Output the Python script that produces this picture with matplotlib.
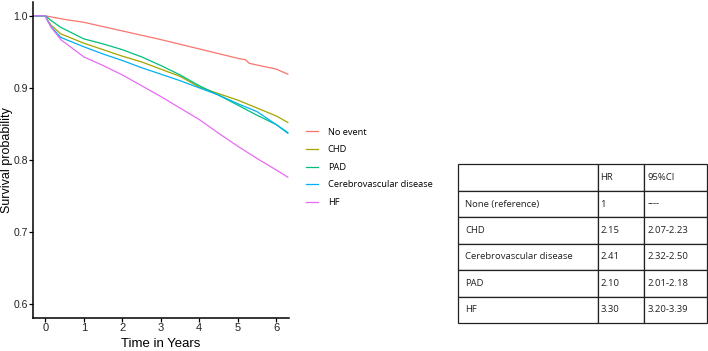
import matplotlib
matplotlib.use("Agg")
from matplotlib import pyplot as plt
from matplotlib.lines import Line2D

# survival curves
t_none = [-0.32, 0, 0.5, 1, 2, 3, 4, 5, 5.2, 5.3, 6, 6.3]
s_none = [1.0, 1.0, 0.995, 0.991, 0.979, 0.967, 0.954, 0.941, 0.939, 0.934, 0.926, 0.919]

t_grp = [-0.32, 0, 0.05, 0.15, 0.4, 1, 1.5, 2, 2.5, 3, 3.5, 4, 4.5, 5, 5.5, 6, 6.3]
s_chd = [1.0, 1.0, 0.995, 0.987, 0.975, 0.962, 0.953, 0.944, 0.936, 0.926, 0.916, 0.901, 0.892, 0.883, 0.872, 0.861, 0.852]
s_pad = [1.0, 1.0, 0.998, 0.9935, 0.984, 0.968, 0.961, 0.953, 0.943, 0.931, 0.918, 0.903, 0.890, 0.876, 0.862, 0.849, 0.838]
s_cvd = [1.0, 1.0, 0.994, 0.985, 0.970, 0.957, 0.947, 0.938, 0.928, 0.919, 0.910, 0.900, 0.890, 0.878, 0.867, 0.849, 0.837]
s_hf = [1.0, 1.0, 0.994, 0.984, 0.967, 0.943, 0.931, 0.918, 0.903, 0.888, 0.872, 0.856, 0.837, 0.819, 0.802, 0.786, 0.776]

labels = ["No event", "CHD", "PAD", "Cerebrovascular disease", "HF"]
colors = ["#F8766D", "#A3A500", "#00BF7D", "#00B0F6", "#E76BF3"]

# hazard ratio table
tab_header = ["", "HR", "95%CI"]
tab_groups = ["None (reference)", "CHD", "Cerebrovascular disease", "PAD", "HF"]
tab_hr = ["1", "2.15", "2.41", "2.10", "3.30"]
tab_ci = ["----", "2.07-2.23", "2.32-2.50", "2.01-2.18", "3.20-3.39"]

plt.rcParams["font.family"] = "Liberation Sans"

fig = plt.figure(figsize=(7.08, 3.51), dpi=100)
ax = fig.add_axes([0.0466, 0.094, 0.361, 0.9])

ax.plot(t_none, s_none, color=colors[0], lw=0.9)
ax.plot(t_grp, s_chd, color=colors[1], lw=0.9)
ax.plot(t_grp, s_pad, color=colors[2], lw=0.9)
ax.plot(t_grp, s_cvd, color=colors[3], lw=0.9)
ax.plot(t_grp, s_hf, color=colors[4], lw=0.9)

ax.set_xlim(-0.32, 6.32)
ax.set_ylim(0.5806, 1.019)
ax.set_xticks(range(7))
ax.set_yticks([0.6, 0.7, 0.8, 0.9, 1.0])
ax.set_yticklabels(["0.6", "0.7", "0.8", "0.9", "1.0"])
ax.spines["top"].set_visible(False)
ax.spines["right"].set_visible(False)
ax.spines["left"].set_linewidth(1.1)
ax.spines["bottom"].set_linewidth(1.1)
ax.tick_params(length=3, width=0.9, colors="black", pad=0.5)
ax.tick_params(axis="x", labelsize=8)
ax.tick_params(axis="y", labelsize=7.5)
for lab in ax.get_xticklabels() + ax.get_yticklabels():
    lab.set_color("#222222")
ax.set_xlabel("Time in Years", fontsize=9.5)
ax.set_ylabel("Survival probability", fontsize=9)
ax.xaxis.set_label_coords(0.5, -0.063)
ax.yaxis.set_label_coords(-0.078, 0.5)

handles = [Line2D([], [], color=c, lw=0.9) for c in colors]
fig.legend(handles, labels, loc="upper left", bbox_to_anchor=(0.421, 0.66),
           frameon=False, handlelength=1.2, handletextpad=1.1,
           labelspacing=0.92, prop={"family": "Open Sans", "size": 6.7})

# table
tax = fig.add_axes([458 / 708, (351 - 323) / 351, 249 / 708, 158.5 / 351])
tax.axis("off")
cells = [tab_header] + [[g, h, c] for g, h, c in zip(tab_groups, tab_hr, tab_ci)]
tbl = tax.table(cellText=cells, colWidths=[140, 46, 63], bbox=[0, 0, 1, 1],
                cellLoc="left")
tbl.auto_set_font_size(False)
for (r, c), cell in tbl.get_celld().items():
    cell.set_linewidth(0.9)
    cell.set_edgecolor("#222222")
    cell.get_text().set_fontsize(6.8)
    cell.get_text().set_fontfamily("Open Sans")
    cell.get_text().set_color("#222222")
    cell.PAD = 0.05

fig.savefig("out.png", dpi=100)
